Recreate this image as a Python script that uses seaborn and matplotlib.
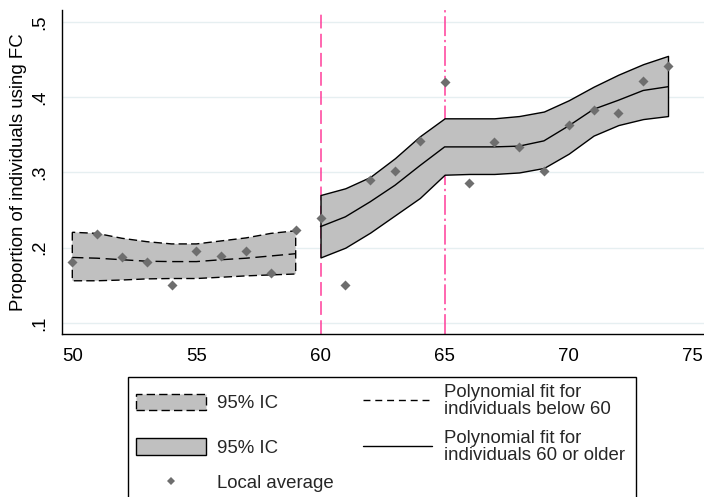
import matplotlib
matplotlib.use("Agg")
import matplotlib.pyplot as plt
import matplotlib.patches as mpatches
from matplotlib.lines import Line2D
import numpy as np
import seaborn as sns

# local averages and polynomial fits, below 60
age_lo = [50, 51, 52, 53, 54, 55, 56, 57, 58, 59]
avg_lo = [0.181, 0.218, 0.187, 0.181, 0.150, 0.196, 0.189, 0.195, 0.167, 0.224]
fit_lo = [0.187, 0.186, 0.184, 0.182, 0.1815, 0.1815, 0.184, 0.186, 0.189, 0.192]
upper_lo = [0.2205, 0.219, 0.2125, 0.208, 0.205, 0.205, 0.209, 0.213, 0.219, 0.2225]
lower_lo = [0.156, 0.156, 0.157, 0.1585, 0.159, 0.159, 0.1607, 0.1625, 0.1638, 0.165]

# 60 or older
age_hi = [60, 61, 62, 63, 64, 65, 66, 67, 68, 69, 70, 71, 72, 73, 74]
avg_hi = [0.239, 0.150, 0.290, 0.302, 0.342, 0.420, 0.286, 0.340, 0.334, 0.302,
          0.363, 0.383, 0.379, 0.422, 0.441]
fit_hi = [0.228, 0.241, 0.261, 0.283, 0.309, 0.334, 0.334, 0.334, 0.335, 0.342,
          0.362, 0.384, 0.396, 0.409, 0.414]
upper_hi = [0.270, 0.279, 0.294, 0.319, 0.348, 0.372, 0.372, 0.372, 0.375, 0.381,
            0.396, 0.414, 0.430, 0.444, 0.455]
lower_hi = [0.187, 0.200, 0.220, 0.243, 0.266, 0.297, 0.298, 0.298, 0.300, 0.306,
            0.325, 0.349, 0.363, 0.371, 0.375]

cutoffs = [60, 65]
xticks = [50, 55, 60, 65, 70, 75]
yticks = [0.1, 0.2, 0.3, 0.4, 0.5]
ytick_labels = [".1", ".2", ".3", ".4", ".5"]

BAND = "#c0c0c0"
POINT = "#6e6e6e"
PINK = "#ff3d9a"
FS = 13.4

sns.set_style("white")
plt.rcParams["font.family"] = ["Liberation Sans", "DejaVu Sans"]

W, H = 704, 497
fig = plt.figure(figsize=(W / 100, H / 100), dpi=100)
ax = fig.add_axes([61.7 / W, (H - 333.5) / H, (W - 61.7) / W, (333.5 - 10) / H])

ax.axvline(cutoffs[0], color=PINK, lw=1.1, ls=(0, (9, 3.5)), zorder=1.5)
ax.axvline(cutoffs[1], color=PINK, lw=1.1, ls=(0, (13, 2.5, 1.5, 2.5)), zorder=1.5)

dash_edge = (0, (6, 3))
dash_fit = (0, (8, 4))
ax.fill_between(age_lo, lower_lo, upper_lo, facecolor=BAND, edgecolor="k",
                lw=1.0, ls=dash_edge, zorder=2)
ax.fill_between(age_hi, lower_hi, upper_hi, facecolor=BAND, edgecolor="k",
                lw=1.0, zorder=2)
sns.lineplot(x=age_lo, y=fit_lo, color="k", lw=1.0, linestyle=dash_fit, ax=ax, zorder=3)
sns.lineplot(x=age_hi, y=fit_hi, color="k", lw=1.0, ax=ax, zorder=3)
sns.scatterplot(x=age_lo + age_hi, y=avg_lo + avg_hi, marker="D", s=26,
                color=POINT, linewidth=0, ax=ax, zorder=4)

ax.set_xlim(49.573, 75.45)
ax.set_ylim(0.0859, 0.516)
ax.set_xticks(xticks)
ax.set_yticks(yticks, labels=ytick_labels)
for lbl in ax.get_yticklabels():
    lbl.set_rotation(90)
    lbl.set_va("center")
ax.tick_params(axis="both", length=5.8, width=1.0, direction="out",
               labelsize=FS, color="k", labelcolor="k")
ax.tick_params(axis="x", pad=4.5)
ax.tick_params(axis="y", pad=4)
ax.yaxis.grid(True, color="#e6eff1", lw=1.0)
ax.xaxis.grid(False)
ax.set_axisbelow(True)
for s in ["top", "right"]:
    ax.spines[s].set_visible(False)
for s in ["left", "bottom"]:
    ax.spines[s].set_color("k")
    ax.spines[s].set_linewidth(1.0)
ax.set_xlabel("")
ax.set_ylabel("Proportion of individuals using FC", fontsize=FS, color="k")
ax.yaxis.set_label_coords(-0.054, 0.5)

# legend box (runs past the bottom of the figure)
fig.add_artist(mpatches.Rectangle((128 / W, -0.1), (636 - 128) / W, 0.1 + (H - 377) / H,
                                  transform=fig.transFigure, fill=False, ec="k", lw=1.0))


def entry(handle, label, x, y, hl, pad):
    leg = fig.legend([handle], [label], loc="center left",
                     bbox_to_anchor=(x / W, 1 - y / H), frameon=False, fontsize=FS,
                     handlelength=hl, handletextpad=pad, handleheight=1.02,
                     borderpad=0, borderaxespad=0)
    for t in leg.get_texts():
        t.set_linespacing(0.95)
    return leg


entry(mpatches.Patch(facecolor=BAND, edgecolor="k", lw=1.0, ls=dash_edge),
      "95% IC", 136, 403, 3.76, 0.59)
entry(mpatches.Patch(facecolor=BAND, edgecolor="k", lw=1.0),
      "95% IC", 136, 447.5, 3.76, 0.59)
entry(Line2D([], [], marker="D", color=POINT, ls="none", markersize=3.6, markeredgewidth=0),
      "Local average", 136, 483, 3.76, 0.59)
entry(Line2D([], [], color="k", lw=1.0, ls=(0, (5, 3.5))),
      "Polynomial fit for\nindividuals below 60", 363, 401, 3.71, 0.66)
entry(Line2D([], [], color="k", lw=1.0),
      "Polynomial fit for\nindividuals 60 or older", 363, 447, 3.71, 0.66)

fig.savefig("out.png", dpi=100, facecolor="white")
